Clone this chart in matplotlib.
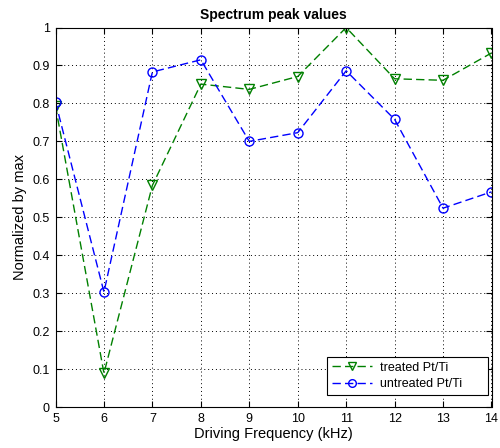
""" Spectrum peak values, treated vs untreated Pt/Ti """

import matplotlib
matplotlib.use('Agg')
import matplotlib.pyplot as plt

plt.rcParams['font.family'] = ['Liberation Sans', 'DejaVu Sans']

freq = [5, 6, 7, 8, 9, 10, 11, 12, 13, 14]		# driving frequency in kHz
treated = [0.793, 0.089, 0.584, 0.851, 0.837, 0.871, 1.0, 0.865, 0.861, 0.933]
untreated = [0.804, 0.303, 0.883, 0.915, 0.700, 0.723, 0.886, 0.758, 0.524, 0.567]
yticks = [0, 0.1, 0.2, 0.3, 0.4, 0.5, 0.6, 0.7, 0.8, 0.9, 1]
yticklabels = ['0', '0.1', '0.2', '0.3', '0.4', '0.5', '0.6', '0.7', '0.8', '0.9', '1']

fig = plt.figure(figsize=(5, 4.48), dpi=100)
ax = fig.add_axes([0.111, 0.0915, 0.872, 0.847])

ax.plot(freq, treated, '--v', color='#008000', mfc='none', mec='#008000', ms=6.5, lw=1, dashes=(6, 3), label='treated Pt/Ti')
ax.plot(freq, untreated, '--o', color='#0000ff', mfc='none', mec='#0000ff', ms=6.5, lw=1, dashes=(6, 3), label='untreated Pt/Ti')

ax.set_xlim(5, 14)
ax.set_ylim(0, 1)
ax.set_xticks(freq)
ax.set_yticks(yticks)
ax.set_yticklabels(yticklabels)
ax.tick_params(direction='in', top=True, right=True, labelsize=9, length=4, pad=4)
ax.grid(True, color='black', linestyle=(0, (1, 3)), linewidth=0.7)
for s in ax.spines.values():
	s.set_linewidth(0.8)

ax.set_title('Spectrum peak values', fontsize=10, fontweight='bold', pad=6)
ax.set_xlabel('Driving Frequency (kHz)', fontsize=10.5, labelpad=2)
ax.set_ylabel('Normalized by max', fontsize=10.5, labelpad=4)

# legend box placed where matlab put it (figure fractions)
leg = ax.legend(loc='lower left', bbox_to_anchor=(0.654, 0.118, 0.322, 0.087), bbox_transform=fig.transFigure,
	mode='expand', borderaxespad=0, fontsize=9, fancybox=False, framealpha=1, edgecolor='black',
	handlelength=3.2, handletextpad=0.6, labelspacing=0.35, borderpad=0.4, markerscale=0.85)
leg.get_frame().set_linewidth(0.8)

plt.savefig('out.png', dpi=100)
